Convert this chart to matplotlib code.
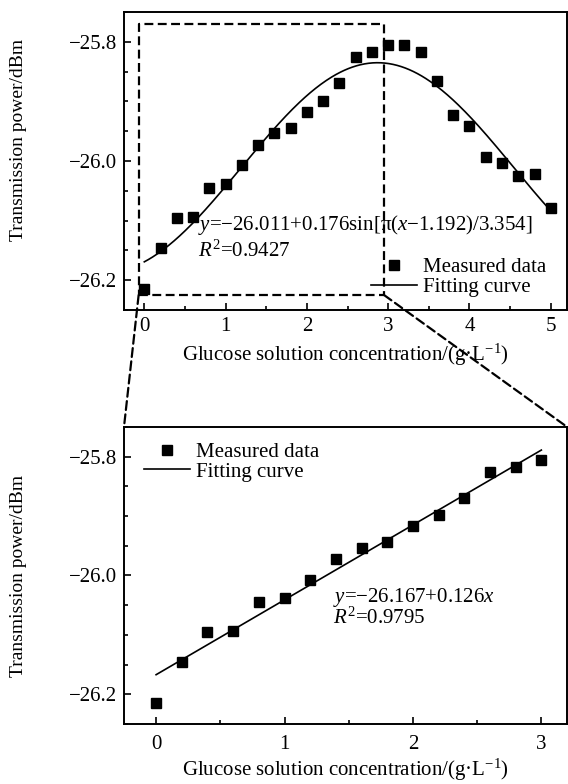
import numpy as np
import matplotlib
matplotlib.use('Agg')
import matplotlib.pyplot as plt
from matplotlib.patches import ConnectionPatch
from matplotlib.ticker import MultipleLocator

plt.rcParams['font.family'] = ['Liberation Serif', 'DejaVu Serif']
plt.rcParams['font.size'] = 15
plt.rcParams['mathtext.fontset'] = 'custom'
plt.rcParams['mathtext.rm'] = 'Liberation Serif'
plt.rcParams['mathtext.it'] = 'Liberation Serif:italic'
plt.rcParams['axes.unicode_minus'] = True

conc = [0.0, 0.2, 0.4, 0.6, 0.8, 1.0, 1.2, 1.4, 1.6, 1.8, 2.0, 2.2, 2.4,
        2.6, 2.8, 3.0, 3.2, 3.4, 3.6, 3.8, 4.0, 4.2, 4.4, 4.6, 4.8, 5.0]
power = [-26.214, -26.146, -26.095, -26.094, -26.045, -26.038, -26.007,
         -25.973, -25.953, -25.944, -25.917, -25.899, -25.869, -25.826,
         -25.817, -25.806, -25.805, -25.817, -25.865, -25.922, -25.942,
         -25.993, -26.004, -26.025, -26.021, -26.079]

# fit coefficients printed on the chart
sin_a, sin_b, sin_c, sin_w = -26.011, 0.176, 1.192, 3.354
lin_a, lin_b = -26.167, 0.126
n_lin = 16   # points used for the linear fit (0..3 g/L)

# zoomed region drawn on the top plot
box_x0, box_x1 = -0.07, 2.95
box_y0, box_y1 = -26.225, -25.77

conc = np.array(conc)
power = np.array(power)

fig = plt.figure(figsize=(5.68, 7.84), dpi=100)
ax1 = fig.add_axes([0.2183, 0.6046, 0.780, 0.380])
ax2 = fig.add_axes([0.2183, 0.0765, 0.780, 0.379])

def style(ax, pad):
    for s in ax.spines.values():
        s.set_linewidth(1.4)
    ax.tick_params(which='both', direction='in', top=False, right=False, width=1.2)
    ax.tick_params(which='major', length=5, pad=5)
    ax.tick_params(axis='x', which='major', pad=pad)
    ax.tick_params(which='minor', length=3)
    ax.yaxis.set_major_locator(MultipleLocator(0.2))
    ax.yaxis.set_minor_locator(MultipleLocator(0.05))
    ax.xaxis.set_major_locator(MultipleLocator(1))
    ax.xaxis.set_minor_locator(MultipleLocator(0.5))
    ax.yaxis.set_major_formatter(plt.FuncFormatter(lambda v, p: '\u2212%.1f' % abs(v) if v < 0 else '%.1f' % v))
    ax.set_ylim(-26.25, -25.75)
    ax.set_ylabel('Transmission power/dBm', fontsize=14)
    ax.set_xlabel('Glucose solution concentration/(g\u00b7L$^{\u22121}$)')

# top plot: full range with sine fit
xs = np.linspace(0, 5, 300)
ax1.plot(conc, power, 's', color='black', ms=7, label='Measured data')
ax1.plot(xs, sin_a + sin_b * np.sin(np.pi * (xs - sin_c) / sin_w), '-', color='black', lw=1.2, label='Fitting curve')
ax1.set_xlim(-0.25, 5.2)
style(ax1, 5)
ax1.yaxis.set_label_coords(-0.22, 0.57)
ax1.legend(loc='upper left', bbox_to_anchor=(0.534, 0.21), frameon=False, borderpad=0,
           handlelength=2.2, handletextpad=0.3, labelspacing=0.0, fontsize=15)
ax1.text(0.66, -26.116, '$y$=\u221226.011+0.176sin[\u03c0($x$\u22121.192)/3.354]', fontsize=15)
ax1.text(0.66, -26.161, '$R^{2}$=0.9427', fontsize=15)

ax1.plot([box_x0, box_x1, box_x1, box_x0, box_x0], [box_y0, box_y0, box_y1, box_y1, box_y0],
         color='black', lw=1.6, linestyle=(0, (4, 2)))

# bottom plot: 0-3 g/L with linear fit
xl = np.linspace(0, 3, 50)
ax2.plot(conc[:n_lin], power[:n_lin], 's', color='black', ms=7, label='Measured data')
ax2.plot(xl, lin_a + lin_b * xl, '-', color='black', lw=1.2, label='Fitting curve')
ax2.set_xlim(-0.25, 3.2)
style(ax2, 8)
ax2.xaxis.labelpad = 2
ax2.yaxis.set_label_coords(-0.22, 0.50)
ax2.legend(loc='upper left', bbox_to_anchor=(0.022, 0.983), frameon=False, borderpad=0,
           handlelength=2.2, handletextpad=0.3, labelspacing=0.0, fontsize=15)
ax2.text(1.38, -26.044, '$y$=\u221226.167+0.126$x$', fontsize=15)
ax2.text(1.38, -26.082, '$R^{2}$=0.9795', fontsize=15)

for xa, xb in [(box_x0, 0.0), (box_x1, 1.0)]:
    con = ConnectionPatch(xyA=(xa, box_y0), coordsA=ax1.transData,
                          xyB=(xb, 1.0), coordsB=ax2.transAxes,
                          color='black', lw=1.6, linestyle=(0, (4, 2)))
    fig.add_artist(con)

fig.savefig('out.png', dpi=100)
